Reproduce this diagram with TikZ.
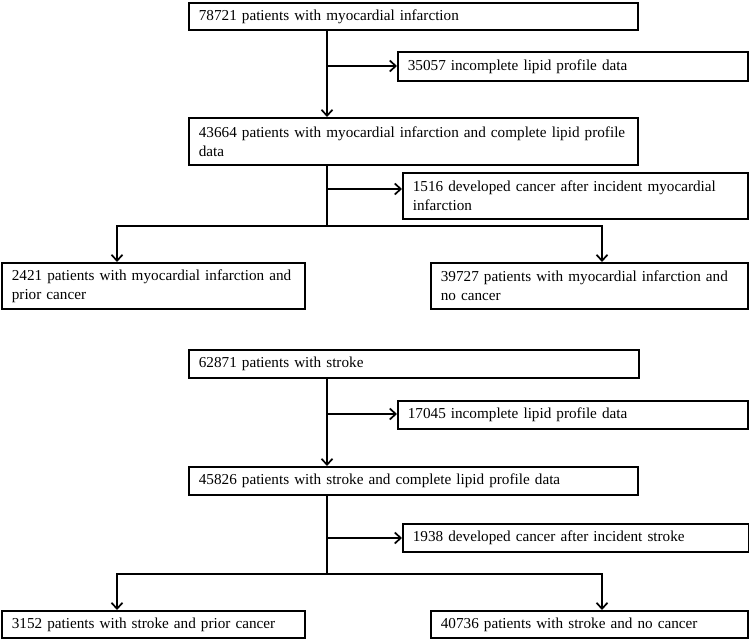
\documentclass[tikz,border=0pt]{standalone}
\usepackage{fontspec}
\setmainfont{Liberation Serif}
\usetikzlibrary{arrows.meta}
\begin{document}
\begin{tikzpicture}[x=1pt,y=-1pt,
  flowbox/.style={draw, line width=1.7pt, align=left, inner xsep=10pt, inner ysep=0pt,
    anchor=north west, font=\fontsize{15.2}{19}\selectfont},
  link/.style={line width=1.7pt},
  arr/.style={link, -{Straight Barb[length=6pt,width=11pt,line width=1.7pt]}}]
\useasboundingbox (0,0) rectangle (749,639);
% ---- myocardial infarction ----
\node[flowbox, text width=429pt, minimum height=27pt] (b1) at (188,2) {78721 patients with myocardial infarction};
\node[flowbox, text width=330pt, minimum height=29pt] (e1) at (397,51) {35057 incomplete lipid profile data};
\node[flowbox, text width=429pt, minimum height=47pt] (b2) at (188,117) {43664 patients with myocardial infarction and complete lipid profile\\data};
\node[flowbox, text width=325pt, minimum height=46pt] (e2) at (402,172) {1516 developed cancer after incident myocardial\\infarction};
\node[flowbox, text width=283pt, minimum height=46pt] (c1) at (1,262) {2421 patients with myocardial infarction and\\prior cancer};
\node[flowbox, text width=297pt, minimum height=46pt] (c2) at (430,262) {39727 patients with myocardial infarction and\\no cancer};
\coordinate (t1) at (327,66);
\coordinate (t2) at (327,189);
\coordinate (j1) at (327,226);
\coordinate (l1) at (117,226);
\coordinate (r1) at (602,226);
\draw[arr] (b1.south -| t1) -- (b2.north -| t1);
\draw[arr] (t1) -- (t1 -| e1.west);
\draw[link] (b2.south -| j1) -- (j1);
\draw[arr] (t2) -- (t2 -| e2.west);
\draw[arr] (j1) -- (l1) -- (l1 |- c1.north);
\draw[arr] (j1) -- (r1) -- (r1 |- c2.north);
% ---- stroke ----
\node[flowbox, text width=430pt, minimum height=28pt] (s1) at (188,349) {62871 patients with stroke};
\node[flowbox, text width=330pt, minimum height=28pt] (f1) at (397,400) {17045 incomplete lipid profile data};
\node[flowbox, text width=429pt, minimum height=28pt] (s2) at (188,466) {45826 patients with stroke and complete lipid profile data};
\node[flowbox, text width=326pt, minimum height=28pt] (f2) at (402,523) {1938 developed cancer after incident stroke};
\node[flowbox, text width=283pt, minimum height=27pt] (d1) at (1,610) {3152 patients with stroke and prior cancer};
\node[flowbox, text width=297pt, minimum height=27pt] (d2) at (430,610) {40736 patients with stroke and no cancer};
\coordinate (u1) at (327,414);
\coordinate (u2) at (327,538);
\coordinate (j2) at (327,574);
\coordinate (l2) at (117,574);
\coordinate (r2) at (602,574);
\draw[arr] (s1.south -| u1) -- (s2.north -| u1);
\draw[arr] (u1) -- (u1 -| f1.west);
\draw[link] (s2.south -| j2) -- (j2);
\draw[arr] (u2) -- (u2 -| f2.west);
\draw[arr] (j2) -- (l2) -- (l2 |- d1.north);
\draw[arr] (j2) -- (r2) -- (r2 |- d2.north);
\end{tikzpicture}
\end{document}
